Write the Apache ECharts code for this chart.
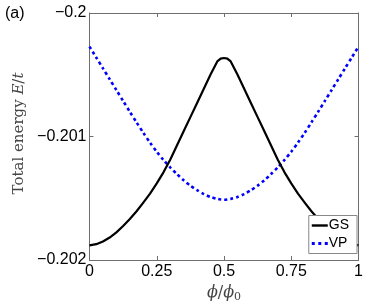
<!DOCTYPE html>
<html><head><meta charset="utf-8">
<script src="https://cdn.jsdelivr.net/npm/echarts@6/dist/echarts.min.js"></script>
<style>html,body{margin:0;padding:0;background:#fff}#c{width:374px;height:302px}</style>
</head><body><div id="c"></div>
<script>
const phi = [0, 0.025, 0.05, 0.075, 0.1, 0.125, 0.15, 0.175, 0.2, 0.225, 0.25, 0.275, 0.3, 0.325, 0.35, 0.375, 0.4, 0.425, 0.45, 0.475, 0.4875, 0.5,
             0.5125, 0.525, 0.55, 0.575, 0.6, 0.625, 0.65, 0.675, 0.7, 0.725, 0.75, 0.775, 0.8, 0.825, 0.85, 0.875, 0.9, 0.925, 0.95, 0.975, 1];
const gsValues = [-0.201882, -0.201872, -0.201850, -0.201818, -0.201776, -0.201725, -0.201668, -0.201605, -0.201535, -0.201462, -0.201380, -0.201290, -0.201188, -0.201073, -0.200958, -0.200843, -0.200728, -0.200613, -0.200498, -0.200392, -0.200370, -0.200364,
                  -0.200370, -0.200392, -0.200498, -0.200613, -0.200728, -0.200843, -0.200958, -0.201073, -0.201188, -0.201290, -0.201380, -0.201462, -0.201535, -0.201605, -0.201668, -0.201725, -0.201776, -0.201818, -0.201850, -0.201872, -0.201882];
const vpValues = [-0.200272, -0.200360, -0.200448, -0.200536, -0.200624, -0.200712, -0.200800, -0.200886, -0.200970, -0.201050, -0.201123, -0.201190, -0.201250, -0.201304, -0.201355, -0.201398, -0.201435, -0.201466, -0.201490, -0.201505, -0.201510, -0.201512,
                  -0.201510, -0.201505, -0.201490, -0.201466, -0.201435, -0.201398, -0.201355, -0.201304, -0.201250, -0.201190, -0.201123, -0.201050, -0.200970, -0.200886, -0.200800, -0.200712, -0.200624, -0.200536, -0.200448, -0.200360, -0.200272];
const xTickLabels = ['0', '0.25', '0.5', '0.75', '1'];
const yTickLabels = ['\u22120.202', '\u22120.201', '\u22120.2'];
const seriesNames = ['GS', 'VP'];

const xMin = 0, xMax = 1, xInt = 0.25;
const yMin = -0.202, yMax = -0.2, yInt = 0.001;
const sans = '"Liberation Sans", Arial, Helvetica, sans-serif';
const serif = '"DejaVu Serif", "Liberation Serif", serif';
const frame = '#6e6e6e';

const chart = echarts.init(document.getElementById('c'), null, {renderer: 'canvas'});
const tickCommon = {show: true, inside: true, length: 4, lineStyle: {color: frame, width: 1}};
chart.setOption({
  animation: false,
  backgroundColor: '#fff',
  grid: {left: 89.5, right: 15.5, top: 13, bottom: 42, containLabel: false, outerBoundsMode: 'none'},
  xAxis: [{
    type: 'value', min: xMin, max: xMax, interval: xInt, position: 'bottom',
    axisLine: {show: true, onZero: false, lineStyle: {color: frame, width: 1}},
    axisTick: tickCommon, splitLine: {show: false},
    axisLabel: {color: '#000', fontFamily: sans, fontSize: 16, margin: 4,
      formatter: v => xTickLabels[Math.round((v - xMin) / xInt)]},
    name: '{i|\u03d5}{n|/}{i|\u03d5}{s|0}', nameLocation: 'middle', nameGap: 16,
    nameTextStyle: {rich: {
      i: {fontFamily: serif, fontStyle: 'italic', fontSize: 16, color: '#444'},
      n: {fontFamily: serif, fontSize: 16, color: '#444'},
      s: {fontFamily: serif, fontSize: 11, color: '#444', verticalAlign: 'bottom', padding: [8, 0, 0, 0]}
    }}
  }, {
    type: 'value', min: xMin, max: xMax, interval: xInt, position: 'top',
    axisLine: {show: true, onZero: false, lineStyle: {color: frame, width: 1}},
    axisTick: tickCommon, axisLabel: {show: false}, splitLine: {show: false}
  }],
  yAxis: [{
    type: 'value', min: yMin, max: yMax, interval: yInt, position: 'left',
    axisLine: {show: true, onZero: false, lineStyle: {color: frame, width: 1}},
    axisTick: tickCommon, splitLine: {show: false},
    axisLabel: {color: '#000', fontFamily: sans, fontSize: 16, margin: 3,
      formatter: v => yTickLabels[Math.round((v - yMin) / yInt)]},
    name: '{n|Total energy }{i|E}{n|/}{i|t}', nameLocation: 'middle', nameGap: 63, nameRotate: 90,
    nameTextStyle: {padding: [0, 0, 0, 6], rich: {
      n: {fontFamily: serif, fontSize: 15, color: '#444'},
      i: {fontFamily: serif, fontStyle: 'italic', fontSize: 15, color: '#444'}
    }}
  }, {
    type: 'value', min: yMin, max: yMax, interval: yInt, position: 'right',
    axisLine: {show: true, onZero: false, lineStyle: {color: frame, width: 1}},
    axisTick: tickCommon, axisLabel: {show: false}, splitLine: {show: false}
  }],
  legend: {
    right: 17, bottom: 48.5, orient: 'vertical',
    backgroundColor: '#fff', borderColor: '#888', borderWidth: 1, borderRadius: 0,
    padding: [3, 8, 3, 3], itemGap: 4, itemWidth: 16, itemHeight: 3,
    textStyle: {fontFamily: sans, fontSize: 14, color: '#000', padding: [0, 0, 0, -4]},
    data: [
      {name: seriesNames[0], icon: 'path://M0,0h16v2.4h-16z'},
      {name: seriesNames[1], icon: 'path://M0,0h3v3h-3zM6.5,0h3v3h-3zM13,0h3v3h-3z'}
    ]
  },
  title: {text: '(a)', left: 0, top: 1, textStyle: {fontFamily: sans, fontSize: 16, fontWeight: 'normal', color: '#000'}},
  series: [{
    name: seriesNames[0], type: 'line', symbol: 'none', smooth: false,
    data: phi.map((p, i) => [p, gsValues[i]]),
    lineStyle: {color: '#000', width: 2.2, type: 'solid', join: 'round'}, itemStyle: {color: '#000'}, z: 3
  }, {
    name: seriesNames[1], type: 'line', symbol: 'none', smooth: 0.25,
    data: phi.map((p, i) => [p, vpValues[i]]),
    lineStyle: {color: '#0000ff', width: 2.6, type: [3, 3]}, itemStyle: {color: '#0000ff'}, z: 2
  }]
});
</script></body></html>
